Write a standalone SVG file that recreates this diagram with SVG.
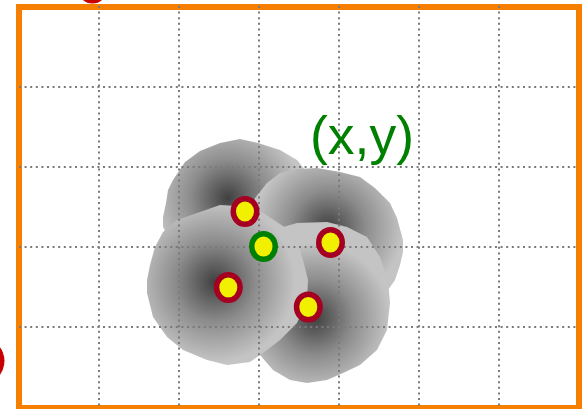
<svg xmlns="http://www.w3.org/2000/svg" width="585" height="409" viewBox="0 0 585 409">
<style>
.grid{stroke:#7a7a7a;stroke-width:2;stroke-dasharray:2 3.6;fill:none}
.ring{fill:#f0f000;stroke:#a50021;stroke-width:5.5}
.ring.g{stroke:#008000}
.blob{stroke:none}
</style>
<defs>
<radialGradient id="gA" gradientUnits="userSpaceOnUse" cx="228" cy="198" r="75">
<stop offset="0" stop-color="#404040"/><stop offset="0.5" stop-color="#8c8c8c"/><stop offset="1" stop-color="#c4c4c4"/>
</radialGradient>
<radialGradient id="gB" gradientUnits="userSpaceOnUse" cx="328" cy="228" r="75">
<stop offset="0" stop-color="#404040"/><stop offset="0.5" stop-color="#8c8c8c"/><stop offset="1" stop-color="#c4c4c4"/>
</radialGradient>
<radialGradient id="gC" gradientUnits="userSpaceOnUse" cx="215" cy="282" r="80">
<stop offset="0" stop-color="#404040"/><stop offset="0.5" stop-color="#8c8c8c"/><stop offset="1" stop-color="#c4c4c4"/>
</radialGradient>
<radialGradient id="gD" gradientUnits="userSpaceOnUse" cx="315" cy="318" r="75">
<stop offset="0" stop-color="#404040"/><stop offset="0.5" stop-color="#8c8c8c"/><stop offset="1" stop-color="#c4c4c4"/>
</radialGradient>
</defs>
<rect width="585" height="409" fill="#ffffff"/>
<g id="offscreen">
<circle cx="92.5" cy="-11" r="14.6" fill="#c80000"/>
<circle cx="-18.5" cy="361" r="23" fill="#c80000"/>
</g>
<rect id="frame" x="19" y="7" width="560" height="401" fill="none" stroke="#f77f00" stroke-width="6"/>
<g id="regions">
<polygon id="blobA" class="blob" fill="url(#gA)" points="220,143 240,139 258,143 280,150 297,160 305,170 312,190 312,215 300,240 280,255 250,265 220,265 190,255 170,240 163,227 163,217 166,203 168,190 173,180 185,162 200,151"/>
<polygon id="blobB" class="blob" fill="url(#gB)" points="255,198 267,183 280,173 297,169 317,168 340,172 360,177 375,188 390,203 397,218 403,240 403,252 400,265 395,280 388,290 370,300 340,305 310,300 285,290 265,270 255,250 252,225"/>
<polygon id="blobD" class="blob" fill="url(#gD)" points="283,227 297,223 327,222 347,227 367,237 380,257 388,280 390,303 387,330 377,350 360,365 343,373 327,380 307,383 290,380 273,370 260,355 250,335 250,300 258,270 270,245"/>
<polygon id="blobC" class="blob" fill="url(#gC)" points="155,247 163,232 177,220 200,212 220,205 237,206 263,213 283,226 297,240 303,260 308,280 307,300 297,323 280,340 267,350 250,362 227,365 207,360 183,350 167,337 153,317 147,293 147,280 150,265"/>
</g>
<g id="grid">
<line class="grid" x1="99" y1="6" x2="99" y2="408"/>
<line class="grid" x1="179" y1="6" x2="179" y2="408"/>
<line class="grid" x1="259" y1="6" x2="259" y2="408"/>
<line class="grid" x1="339" y1="6" x2="339" y2="408"/>
<line class="grid" x1="419" y1="6" x2="419" y2="408"/>
<line class="grid" x1="499" y1="6" x2="499" y2="408"/>
<line class="grid" x1="19" y1="87" x2="579" y2="87"/>
<line class="grid" x1="19" y1="167" x2="579" y2="167"/>
<line class="grid" x1="19" y1="247" x2="579" y2="247"/>
<line class="grid" x1="19" y1="327" x2="579" y2="327"/>
</g>
<g id="p1"><ellipse class="ring" cx="245" cy="211.5" rx="11.75" ry="12.8"/></g>
<g id="p2"><ellipse class="ring" cx="330.5" cy="242.5" rx="11.75" ry="12.8"/></g>
<g id="p3"><ellipse class="ring" cx="228.3" cy="287.5" rx="11.75" ry="12.8"/></g>
<g id="p4"><ellipse class="ring" cx="308.3" cy="307" rx="11.75" ry="12.8"/></g>
<g id="estimate"><ellipse class="ring g" cx="263.5" cy="246.5" rx="11.75" ry="12.8"/></g>
<g id="label"><text x="310" y="154" font-family="'Liberation Sans', Arial, sans-serif" font-size="53.5" fill="#008000">(x,y)</text></g>
</svg>
